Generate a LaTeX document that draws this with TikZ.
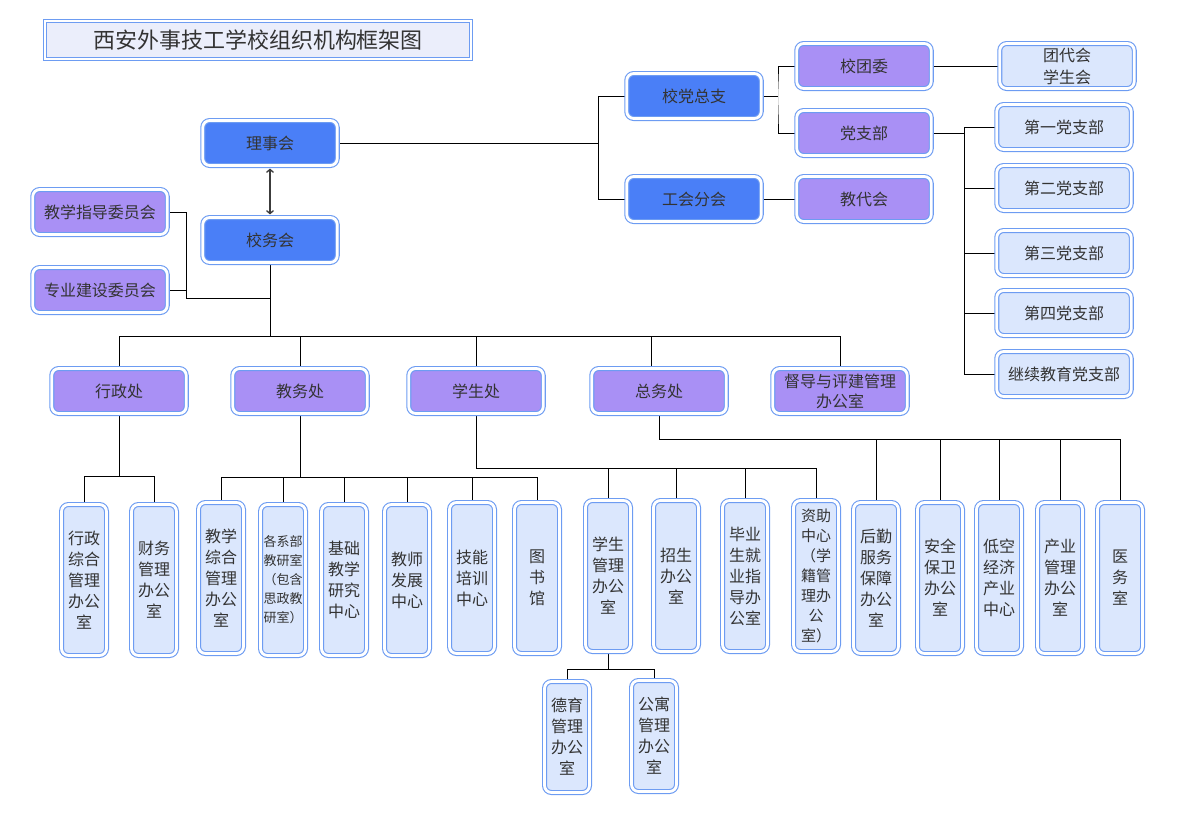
\documentclass[tikz,border=0pt]{standalone}
\usepackage{fontspec}
\setmainfont{Noto Sans CJK SC}
\usetikzlibrary{arrows.meta,backgrounds}
\definecolor{bd}{HTML}{6D9CF2}
\definecolor{dk}{HTML}{4A7FF7}
\definecolor{pu}{HTML}{A990F5}
\definecolor{lt}{HTML}{DBE7FD}
\definecolor{tt}{HTML}{EBEEFB}
\definecolor{tx}{HTML}{333333}
\definecolor{ln}{HTML}{3C3C3C}
\begin{document}
\begin{tikzpicture}[x=1pt,y=-1pt,>={Straight Barb[length=3pt,width=7pt]},
		orgbox/.style={draw=bd,line width=1.1pt,double=white,double distance=2.8pt,rounded corners=7pt,text=tx,align=center,inner sep=0pt,font=\fontsize{16}{20}\selectfont},
		widebox/.style={orgbox,minimum width=134.5pt,minimum height=45pt},
		lv1/.style={widebox,fill=dk},
		lv2/.style={widebox,fill=pu},
		lv3/.style={widebox,fill=lt},
		tallbox/.style={orgbox,fill=lt,minimum width=45pt,minimum height=151pt,font=\fontsize{16}{21}\selectfont},
		lowbox/.style={tallbox,minimum height=111pt},
		conn/.style={draw=ln,line width=1.3pt}]
	\useasboundingbox (0,0) rectangle (1187,839);
	\node[draw=bd,line width=0.8pt,double=white,double distance=1.6pt,fill=tt,minimum width=426pt,minimum height=38pt,inner sep=0pt,text=tx,font=\fontsize{22}{24}\selectfont] (title) at (258,40) {西安外事技工学校组织机构框架图};
	\node[lv1] (lsh) at (270,143) {理事会};
	\node[lv1] (xwh) at (270,240) {校务会};
	\node[lv2] (jxzd) at (100,212) {教学指导委员会};
	\node[lv2] (zyjs) at (100,290) {专业建设委员会};
	\node[lv1] (dzz) at (694,96) {校党总支};
	\node[lv1] (ghfh) at (694,199) {工会分会};
	\node[lv2] (xtw) at (864,66) {校团委};
	\node[lv2] (dzb) at (864,133) {党支部};
	\node[lv2] (jdh) at (864,199) {教代会};
	\node[lv3,font=\fontsize{16}{22}\selectfont] (tdh) at (1067,66) {团代会\\学生会};
	\node[lv3] (zb1) at (1064,127) {第一党支部};
	\node[lv3] (zb2) at (1064,188) {第二党支部};
	\node[lv3] (zb3) at (1064,253) {第三党支部};
	\node[lv3] (zb4) at (1064,313) {第四党支部};
	\node[lv3] (zb5) at (1064,374) {继续教育党支部};
	\node[lv2] (xzc) at (119,391) {行政处};
	\node[lv2] (jwc) at (300,391) {教务处};
	\node[lv2] (xsc) at (476,391) {学生处};
	\node[lv2] (zwc) at (659,391) {总务处};
	\node[lv2] (ddpj) at (840,391) {督导与评建管理\\办公室};
	\node[tallbox] (xzzh) at (84,580) {行政\\综合\\管理\\办公\\室};
	\node[tallbox] (cwgl) at (154,580) {财务\\管理\\办公\\室};
	\node[tallbox] (jxzh) at (221,578) {教学\\综合\\管理\\办公\\室};
	\node[tallbox,font=\fontsize{13}{19}\selectfont] (gxb) at (283,580) {各系部\\教研室\\（包含\\思政教\\研室）};
	\node[tallbox] (jcjx) at (344,580) {基础\\教学\\研究\\中心};
	\node[tallbox] (jsfz) at (407,580) {教师\\发展\\中心};
	\node[tallbox] (jnpx) at (472,578) {技能\\培训\\中心};
	\node[tallbox] (tsg) at (537,578) {图\\书\\馆};
	\node[tallbox] (xsgl) at (608,576) {学生\\管理\\办公\\室};
	\node[tallbox] (zsb) at (676,576) {招生\\办公\\室};
	\node[tallbox] (byjy) at (745,576) {毕业\\生就\\业指\\导办\\公室};
	\node[tallbox,font=\fontsize{15}{20}\selectfont] (zzzx) at (816,576) {资助\\中心\\（学\\籍管\\理办\\公\\室）};
	\node[tallbox] (hqfw) at (876,578) {后勤\\服务\\保障\\办公\\室};
	\node[tallbox] (aqbw) at (940,578) {安全\\保卫\\办公\\室};
	\node[tallbox] (dkjj) at (999,578) {低空\\经济\\产业\\中心};
	\node[tallbox] (cygl) at (1060,578) {产业\\管理\\办公\\室};
	\node[tallbox] (yws) at (1120,578) {医\\务\\室};
	\node[lowbox] (dygl) at (567,737) {德育\\管理\\办公\\室};
	\node[lowbox] (gygl) at (654,736) {公寓\\管理\\办公\\室};
	\coordinate (bus) at (270,336);
	\coordinate (cm) at (270,298);
	\begin{scope}[on background layer,conn]
		\draw (dzz.west) -- ++(-28,0) |- (ghfh.west);
		\draw (lsh.east) -| ([xshift=-28pt]dzz.west);
		\draw (dzz.east) -- ++(16,0);
		\draw (xtw.west) -| ([xshift=16pt]dzz.east) |- (dzb.west);
		\draw (ghfh) -- (jdh);
		\draw (xtw) -- (tdh);
		\foreach \n in {zb1,zb2,zb3,zb4,zb5} \draw (dzb.east) -- ++(32,0) |- (\n.west);
		\draw (xwh.south) -- (bus);
		\draw (jxzd.east) -- ++(18,0) |- (cm);
		\draw (zyjs.east) -- ++(18,0);
		\foreach \n in {xzc,jwc,xsc,ddpj} \draw (bus) -| (\n.north);
		\draw (bus) -| ([xshift=-8pt]zwc.north);
		\foreach \n in {xzzh,cwgl} \draw (xzc.south) -- ++(0,62) -| (\n.north);
		\foreach \n in {jxzh,gxb,jcjx,jsfz,jnpx,tsg} \draw (jwc.south) -- ++(0,63) -| (\n.north);
		\foreach \n in {xsgl,zsb,byjy,zzzx} \draw (xsc.south) -- ++(0,54) -| (\n.north);
		\foreach \n in {hqfw,aqbw,dkjj,cygl,yws} \draw (zwc.south) -- ++(0,25) -| (\n.north);
		\foreach \n in {dygl,gygl} \draw (xsgl.south) -- ++(0,17) -| (\n.north);
	\end{scope}
	\draw[conn,<->] ([yshift=-2.5pt]lsh.south) -- ([yshift=2.5pt]xwh.north);
\end{tikzpicture}
\end{document}
